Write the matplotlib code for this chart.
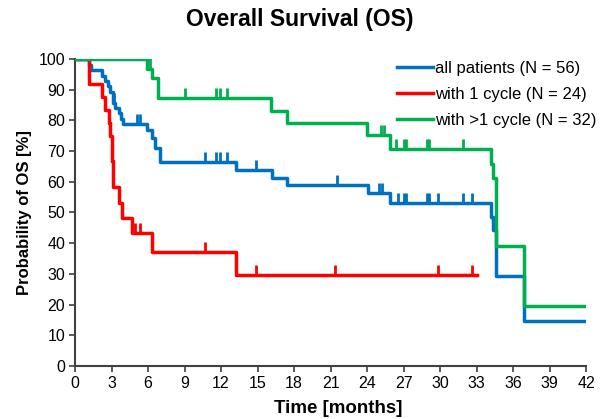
import numpy as np
import matplotlib
matplotlib.use("Agg")
import matplotlib.pyplot as plt

plt.rcParams["font.family"] = ["Liberation Sans", "DejaVu Sans"]

# Kaplan-Meier step data (time in months, survival in %)
all_t = [0, 1.15, 1.3, 2.2, 2.5, 2.75, 2.9, 3.1, 3.3, 3.6, 3.75, 3.97, 5.95, 6.3, 6.6, 6.95,
         13.2, 16.2, 17.4, 24.1, 25.9, 34.2, 34.35, 34.6, 36.85, 42.0]
all_s = [100, 98.2, 96.4, 94.6, 92.9, 91.1, 89.3, 85.7, 84.0, 82.3, 80.4, 78.8, 76.8, 74.3, 70.9,
         66.4, 63.9, 61.1, 58.8, 56.3, 53.2, 48.4, 44.3, 29.4, 14.7, 14.7]
all_cens = [3.2, 5.1, 5.35, 10.65, 11.6, 11.9, 12.5, 14.9, 21.5, 25.0, 25.2, 26.5, 27.0, 27.2,
            28.9, 29.1, 29.8, 31.9, 32.6]

one_t = [0, 1.15, 2.2, 2.5, 2.8, 2.9, 3.0, 3.05, 3.1, 3.15, 3.6, 3.85, 4.65, 6.3, 13.25, 33.0]
one_s = [100, 91.7, 87.5, 83.3, 79.2, 75.0, 70.8, 66.7, 62.5, 58.3, 53.2, 48.2, 43.3, 37.2,
         29.6, 29.6]
one_cens = [4.9, 5.35, 10.65, 14.9, 21.4, 29.8, 32.6]

more_t = [0, 5.95, 6.3, 6.85, 16.1, 17.4, 24.0, 25.9, 34.2, 34.35, 34.6, 36.85, 42.0]
more_s = [100, 96.9, 93.8, 87.2, 83.1, 79.3, 75.2, 70.6, 65.9, 61.2, 39.2, 19.6, 19.6]
more_cens = [6.2, 9.05, 11.6, 11.9, 12.5, 25.1, 25.4, 26.4, 27.0, 27.2, 28.9, 29.1, 31.9]

series = [
    ("all patients (N = 56)", all_t, all_s, all_cens, "#0070C0"),
    ("with 1 cycle (N = 24)", one_t, one_s, one_cens, "#FF0000"),
    ("with >1 cycle (N = 32)", more_t, more_s, more_cens, "#00B050"),
]

fig = plt.figure(figsize=(6.0, 4.19), dpi=100)
ax = fig.add_axes([0.125, 0.1265, 0.852, 0.7327])

for label, t, s, cens, col in series:
    ax.step(t, s, where="post", color=col, lw=2.5, label=label, zorder=3)
    idx = np.searchsorted(t, cens, side="right") - 1
    lev = np.array(s)[idx]
    ax.vlines(cens, lev, lev + 3.3, color=col, lw=2.0, zorder=3)

ax.set_xlim(0, 42)
ax.set_ylim(0, 100)
ax.set_xticks(np.arange(0, 43, 3))
ax.set_yticks(np.arange(0, 101, 10))
ax.tick_params(labelsize=11.5, length=4, width=1.2, color="#404040", pad=3)
for sp in ["top", "right"]:
    ax.spines[sp].set_visible(False)
for sp in ["left", "bottom"]:
    ax.spines[sp].set_color("#404040")
    ax.spines[sp].set_linewidth(1.5)

ax.set_xlabel("Time [months]", fontsize=13.5, fontweight="bold", labelpad=6)
ax.xaxis.set_label_coords(0.515, -0.11)
ax.set_ylabel("Probability of OS [%]", fontsize=12, fontweight="bold", labelpad=5)
fig.suptitle("Overall Survival (OS)", fontsize=16.5, fontweight="bold", x=0.5, y=0.98,
             va="top")

ax.legend(loc="upper left", frameon=False, fontsize=12, handlelength=2.15,
          handletextpad=0.1, labelspacing=0.68, borderaxespad=0, borderpad=0,
          bbox_to_anchor=(0.630, 0.995))

fig.savefig("out.png", dpi=100)
